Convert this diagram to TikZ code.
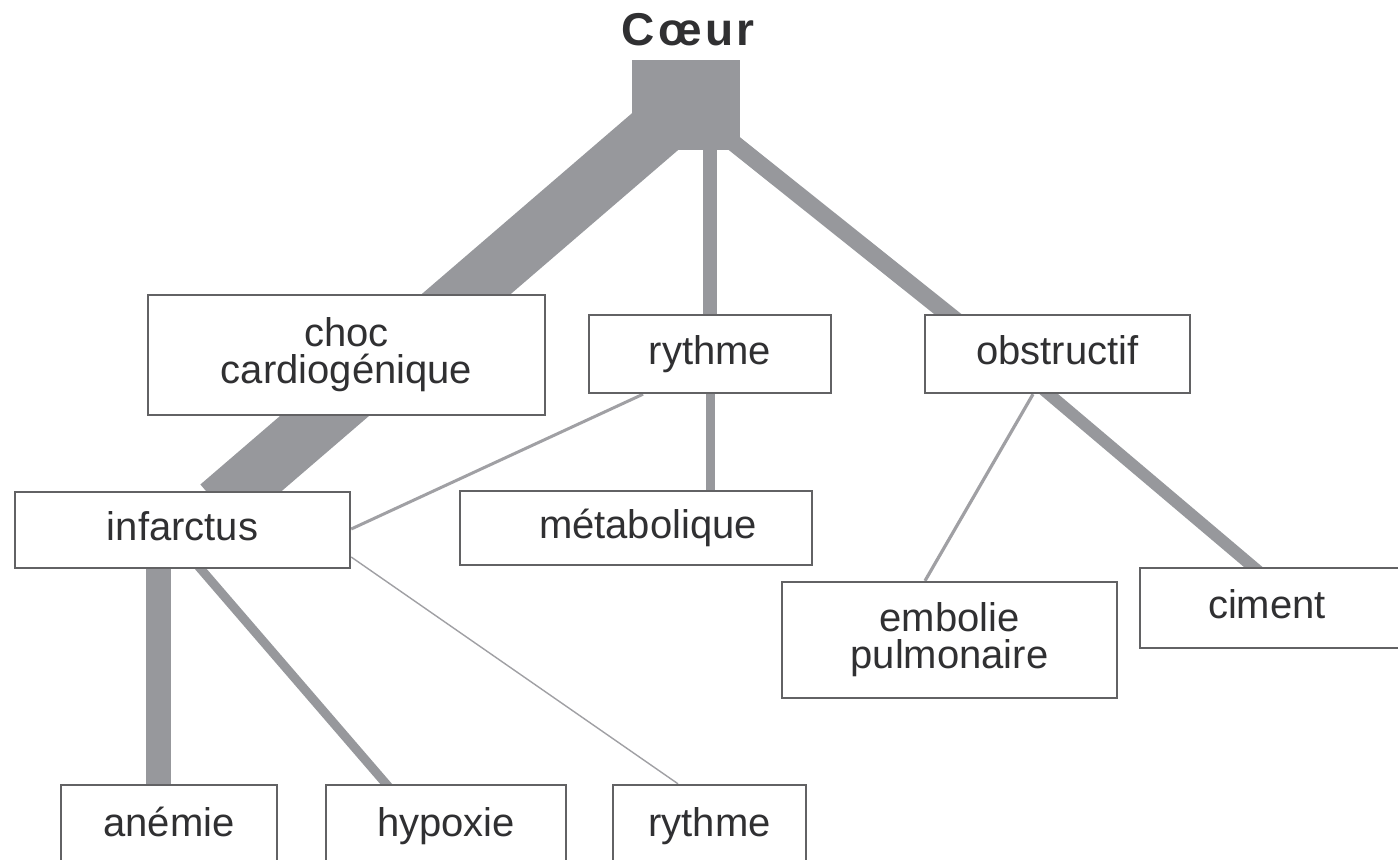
\documentclass[tikz,border=0pt]{standalone}
\usepackage{fontspec}
\setmainfont{Liberation Sans}
\newfontfamily\titlefont[LetterSpace=8]{Liberation Sans}
\usetikzlibrary{calc,backgrounds}
\definecolor{bandgray}{RGB}{151,152,156}
\definecolor{edgegray}{RGB}{98,98,100}
\definecolor{inkgray}{RGB}{48,48,50}
\definecolor{thingray}{RGB}{160,160,164}
\tikzset{
  box/.style={draw=edgegray,line width=1.2pt,fill=white,inner sep=0pt,text=inkgray,font=\fontsize{20}{18.5}\selectfont,align=center},
  onebox/.style={box,text height=14.4pt,text depth=4.2pt},
  band/.style={draw=bandgray,line width=#1},
  link/.style={draw=thingray,line width=#1},
  heartblk/.style={fill=bandgray,inner sep=0pt,minimum width=54pt,minimum height=45pt},
  ttl/.style={text=inkgray,font={\titlefont\bfseries\fontsize{23}{23}\selectfont}}
}
\begin{document}
\begin{tikzpicture}[x=0.5pt,y=-0.5pt]
  \useasboundingbox (0,0) rectangle (1398,859);
  \clip (0,0) rectangle (1398,859);
  \node[ttl] (coeur) at (688,30) {Cœur};
  \node[heartblk] (heart) at (686,105) {};
  \node[box,minimum width=198.5pt,minimum height=60pt] (choc) at (346.5,355) {choc\\cardiogénique};
  \node[onebox,minimum width=121pt,minimum height=39pt] (rythme) at (710,354) {rythme};
  \node[onebox,minimum width=132.5pt,minimum height=39pt] (obstr) at (1057.5,354) {obstructif};
  \node[onebox,minimum width=167.5pt,minimum height=38pt] (infarctus) at (182.5,530) {infarctus};
  \node[onebox,minimum width=176pt,minimum height=37pt] (metab) at (636,528) {\hspace*{12pt}métabolique};
  \node[box,minimum width=167.5pt,minimum height=58pt] (embolie) at (949.5,640) {embolie\\pulmonaire};
  \node[onebox,minimum width=135pt,minimum height=40pt] (ciment) at (1275,608) {ciment\hspace*{8pt}};
  \node[onebox,minimum width=108pt,minimum height=41pt] (anemie) at (169,826) {anémie};
  \node[onebox,minimum width=120pt,minimum height=41pt] (hypoxie) at (446,826) {hypoxie};
  \node[onebox,minimum width=96.5pt,minimum height=41pt] (rythmeb) at (709.5,826) {rythme};
  \coordinate (anemietop) at ($(anemie.north)+(-11,0)$);
  \begin{pgfonlayer}{background}
    \fill[white] (0,0) rectangle (1398,859);
    \draw[band=29pt,shorten >=-12pt] (heart.center) -- ($(infarctus.north)+(55,0)$);
    \draw[band=7pt,shorten <=-6pt] (rythme.north) -- (rythme.north |- heart.center);
    \draw[band=8.5pt,shorten >=-8pt] (heart.center) -- ($(obstr.north)+(-110,0)$);
    \draw[band=4.5pt,shorten <=-4pt,shorten >=-4pt] (rythme.south) -- (rythme.south |- metab.north);
    \draw[band=12.5pt,shorten <=-4pt,shorten >=-4pt] (anemietop) -- (anemietop |- infarctus.south);
    \draw[band=4.5pt,shorten <=-4pt,shorten >=-4pt] ($(infarctus.south)+(18.5,0)$) -- ($(hypoxie.north)+(-60,0)$);
    \draw[band=6pt,shorten <=-4pt,shorten >=-4pt] ($(obstr.south)+(-8.5,0)$) -- ($(ciment.north)+(-22,0)$);
    \draw[link=1.6pt] ($(obstr.south)+(-24.5,0)$) -- ($(embolie.north)+(-24.5,0)$);
    \draw[link=1.5pt] ($(rythme.south)+(-67,0)$) -- ($(infarctus.east)+(0,-1)$);
    \draw[link=0.7pt] ($(infarctus.east)+(0,27)$) -- ($(rythmeb.north)+(-31.5,0)$);
  \end{pgfonlayer}
\end{tikzpicture}
\end{document}
